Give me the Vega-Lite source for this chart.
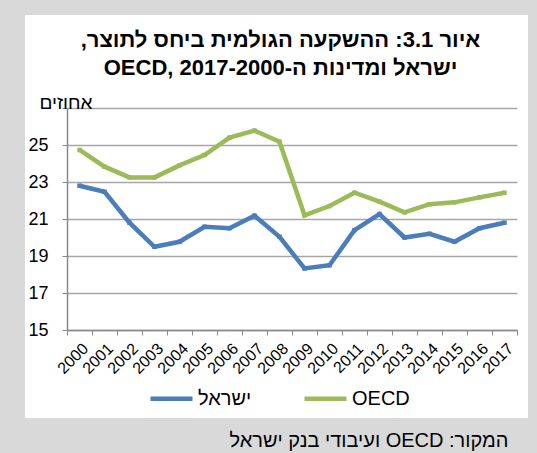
{
  "$schema": "https://vega.github.io/schema/vega-lite/v6.json",
  "width": 503,
  "height": 403,
  "autosize": "none",
  "padding": {"left": 25, "top": 15, "right": 9, "bottom": 35},
  "background": "#d9d9d9",
  "config": {"font": "Liberation Sans", "view": {"fill": "white", "stroke": null}},
  "title": {
    "text": ["\u202bאיור 3.1: ההשקעה הגולמית ביחס לתוצר,\u202c", "\u202bישראל ומדינות ה-2017-2000 ,OECD\u202c"],
    "fontSize": 22,
    "fontWeight": "bold",
    "font": "Liberation Sans",
    "color": "black",
    "anchor": "middle",
    "frame": "group",
    "lineHeight": 28,
    "offset": -65,
    "dx": 4
  },
  "data": {
    "values": [
      {"year": "2000", "series": "ישראל", "value": 22.8},
      {"year": "2001", "series": "ישראל", "value": 22.47},
      {"year": "2002", "series": "ישראל", "value": 20.8},
      {"year": "2003", "series": "ישראל", "value": 19.5},
      {"year": "2004", "series": "ישראל", "value": 19.77},
      {"year": "2005", "series": "ישראל", "value": 20.58},
      {"year": "2006", "series": "ישראל", "value": 20.5},
      {"year": "2007", "series": "ישראל", "value": 21.18},
      {"year": "2008", "series": "ישראל", "value": 20.04},
      {"year": "2009", "series": "ישראל", "value": 18.33},
      {"year": "2010", "series": "ישראל", "value": 18.5},
      {"year": "2011", "series": "ישראל", "value": 20.4},
      {"year": "2012", "series": "ישראל", "value": 21.27},
      {"year": "2013", "series": "ישראל", "value": 20.0},
      {"year": "2014", "series": "ישראל", "value": 20.2},
      {"year": "2015", "series": "ישראל", "value": 19.77},
      {"year": "2016", "series": "ישראל", "value": 20.5},
      {"year": "2017", "series": "ישראל", "value": 20.8},
      {"year": "2000", "series": "OECD", "value": 24.73},
      {"year": "2001", "series": "OECD", "value": 23.83},
      {"year": "2002", "series": "OECD", "value": 23.25},
      {"year": "2003", "series": "OECD", "value": 23.25},
      {"year": "2004", "series": "OECD", "value": 23.9},
      {"year": "2005", "series": "OECD", "value": 24.46},
      {"year": "2006", "series": "OECD", "value": 25.4},
      {"year": "2007", "series": "OECD", "value": 25.78},
      {"year": "2008", "series": "OECD", "value": 25.18},
      {"year": "2009", "series": "OECD", "value": 21.2},
      {"year": "2010", "series": "OECD", "value": 21.7},
      {"year": "2011", "series": "OECD", "value": 22.42},
      {"year": "2012", "series": "OECD", "value": 21.94},
      {"year": "2013", "series": "OECD", "value": 21.36},
      {"year": "2014", "series": "OECD", "value": 21.8},
      {"year": "2015", "series": "OECD", "value": 21.9},
      {"year": "2016", "series": "OECD", "value": 22.17},
      {"year": "2017", "series": "OECD", "value": 22.42}
    ]
  },
  "mark": {"type": "line", "strokeWidth": 4.5, "point": {"filled": true, "size": 20, "shape": "square"}},
  "encoding": {
    "x": {
      "field": "year",
      "type": "ordinal",
      "bandPosition": 0.5,
      "scale": {"type": "band", "range": [42, 492], "paddingInner": 0, "paddingOuter": 0},
      "axis": {
        "offset": -88,
        "grid": false,
        "tickBand": "extent",
        "tickSize": 5,
        "tickColor": "#888888",
        "domainColor": "#888888",
        "domainWidth": 1.5,
        "labelAngle": -45,
        "labelFontSize": 16,
        "labelColor": "black",
        "labelPadding": 5,
        "title": "\u202bהמקור: OECD ועיבודי בנק ישראל\u202c",
        "titleX": 483,
        "titleY": 116,
        "titleAlign": "right",
        "titleBaseline": "alphabetic",
        "titleFontSize": 20,
        "titleFontWeight": "normal",
        "titleColor": "black"
      }
    },
    "y": {
      "field": "value",
      "type": "quantitative",
      "scale": {"domain": [15, 27], "range": [315, 93], "nice": false, "zero": false},
      "axis": {
        "offset": -42,
        "values": [15, 17, 19, 21, 23, 25, 27],
        "labelExpr": "datum.value == 27 ? '' : datum.label",
        "labelFontSize": 18,
        "labelColor": "black",
        "labelPadding": 14,
        "tickSize": 5,
        "tickColor": "#888888",
        "domainColor": "#888888",
        "domainWidth": 1.5,
        "gridColor": "#a6a6a6",
        "gridWidth": 1.5,
        "title": "אחוזים",
        "titleAngle": 0,
        "titleX": 25,
        "titleY": 93,
        "titleAlign": "right",
        "titleBaseline": "alphabetic",
        "titleFontSize": 19,
        "titleFontWeight": "normal",
        "titleColor": "black"
      }
    },
    "color": {
      "field": "series",
      "type": "nominal",
      "scale": {"domain": ["ישראל", "OECD"], "range": ["#4a7dba", "#9bbb59"]},
      "legend": {
        "orient": "none",
        "legendX": 123,
        "legendY": 360,
        "direction": "horizontal",
        "title": null,
        "symbolType": "stroke",
        "symbolSize": 1764,
        "symbolStrokeWidth": 4.5,
        "labelFontSize": 20,
        "labelColor": "black",
        "labelOffset": 3,
        "columnPadding": 43,
        "padding": 0
      }
    }
  }
}
